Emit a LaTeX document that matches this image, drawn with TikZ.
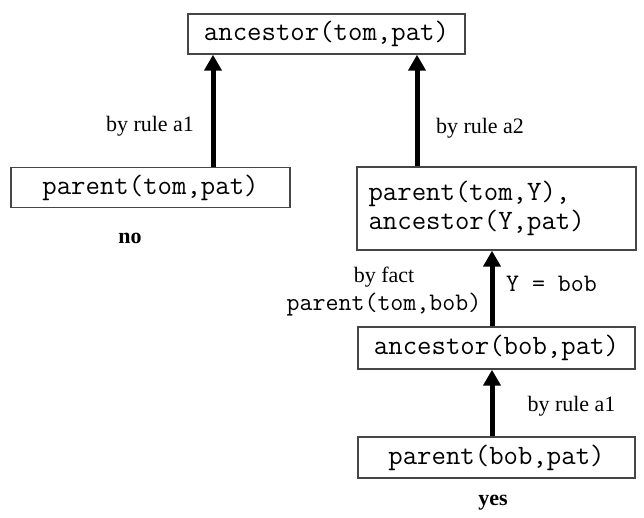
\documentclass[tikz,border=0pt]{standalone}
\usepackage{fontspec}
\setmainfont{Liberation Serif}
\definecolor{boxgray}{RGB}{70, 70, 70}
\usetikzlibrary{arrows.meta, positioning}

\begin{document}
\begin{tikzpicture}[x=0.5pt, y=-0.5pt,
  goal/.style={draw=boxgray, line width=0.7pt, inner sep=0pt, font=\fontsize{14}{14.5}\selectfont\ttfamily},
  prove/.style={line width=2.5pt, -{Triangle[length=8pt, width=8.5pt]}},
  why/.style={font=\fontsize{11}{14}\selectfont},
  answer/.style={font=\fontsize{11}{14}\selectfont\bfseries}]
  \useasboundingbox (0,0) rectangle (644,518);
  \node[goal, minimum width=138.5pt, minimum height=20pt] (top) at (326.5,34) {ancestor(tom,pat)};
  \node[goal, minimum width=139.5pt, minimum height=20pt] (ptp) at (150.5,187.5) {parent(tom,pat)};
  \node[goal, minimum width=139.5pt, minimum height=41.5pt, text width=128pt, align=left] (mid) at (496.5,208.5) {parent(tom,Y),\\ancestor(Y,pat)};
  \node[goal, minimum width=138.5pt, minimum height=21pt] (abp) at (496.5,348) {ancestor(bob,pat)};
  \node[goal, minimum width=138.5pt, minimum height=20.5pt] (pbp) at (496.5,457.5) {parent(bob,pat)};
  \node[why] (rulel) at (150,126) {by rule a1};
  \node[why] (ruler) at (480,128) {by rule a2};
  \node[why, align=center] (fact) at (384,292) {by fact\\\fontsize{12.6}{14}\selectfont\texttt{parent(tom,bob)}};
  \node[why, font=\fontsize{12.6}{14}\selectfont\ttfamily] (bind) at (551.5,284) {Y = bob};
  \node[why] (rulelow) at (571.5,406) {by rule a1};
  \node[answer] (no) at (130,238) {no};
  \node[answer] (yes) at (493,503) {yes};
  \draw[prove] ([xshift=31.25pt]ptp.north) -- ([xshift=31.25pt]ptp.north |- top.south);
  \draw[prove] ([xshift=-39.75pt]mid.north) -- ([xshift=-39.75pt]mid.north |- top.south);
  \draw[prove] ([xshift=-2.25pt]abp.north) -- ([xshift=-2.25pt]abp.north |- mid.south);
  \draw[prove] ([xshift=-2.25pt]pbp.north) -- ([xshift=-2.25pt]pbp.north |- abp.south);
\end{tikzpicture}
\end{document}
